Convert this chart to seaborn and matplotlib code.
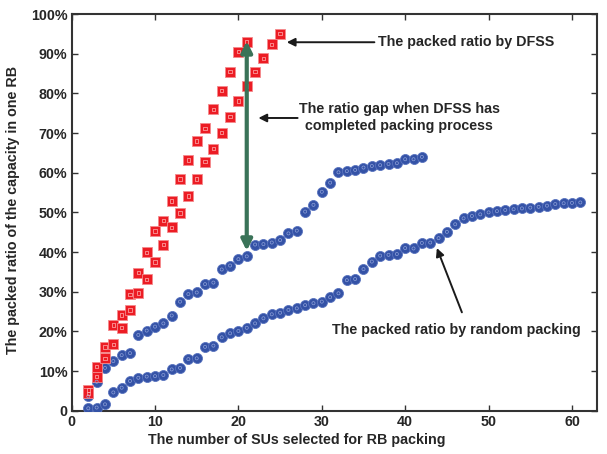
import numpy as np
import pandas as pd
import matplotlib
matplotlib.use("Agg")
import matplotlib.pyplot as plt
import seaborn as sns

# DFSS (two interleaved runs)
dfss_a_x = list(range(2, 22))
dfss_a_y = [5.2, 11.1, 16.1, 21.6, 24.1, 29.3, 34.8, 39.9, 45.3, 47.9,
            52.9, 58.4, 63.2, 68.0, 71.2, 76.0, 80.7, 85.5, 90.5, 93.0]
dfss_b_x = list(range(2, 26))
dfss_b_y = [4.4, 8.6, 13.2, 16.7, 20.9, 25.4, 29.7, 33.1, 37.5, 41.9,
            46.2, 49.8, 54.1, 58.4, 62.8, 66.1, 70.1, 74.1, 78.1, 81.9,
            85.5, 88.8, 92.4, 95.1]

# random packing, upper run (x = 2..42)
rand_a_x = list(range(2, 43))
rand_a_y = [3.6, 7.3, 10.8, 12.5, 14.0, 14.5, 19.1, 20.2, 21.2, 22.0,
            24.0, 27.5, 29.4, 29.8, 31.9, 32.3, 35.6, 36.6, 38.2, 38.9,
            41.9, 42.0, 42.4, 43.0, 44.7, 45.4, 50.2, 51.9, 55.2, 57.5,
            60.1, 60.4, 60.7, 61.3, 61.7, 61.9, 62.2, 62.4, 63.4, 63.4, 64.0]

# random packing, lower run (x = 2..61)
rand_b_x = list(range(2, 62))
rand_b_y = [0.6, 0.8, 1.6, 4.6, 5.8, 7.5, 8.3, 8.6, 8.7, 9.0,
            10.4, 10.8, 13.0, 13.2, 16.1, 16.4, 18.5, 19.5, 20.1, 20.9,
            22.0, 23.3, 24.3, 24.7, 25.4, 25.8, 26.6, 27.1, 27.5, 28.6,
            29.6, 32.9, 33.2, 35.7, 37.6, 39.1, 39.3, 39.5, 41.0, 40.9,
            42.3, 42.4, 43.5, 45.1, 47.0, 48.5, 49.1, 49.5, 50.0, 50.3,
            50.6, 50.8, 51.0, 51.2, 51.4, 51.7, 52.1, 52.3, 52.4, 52.5]

xticks = [0, 10, 20, 30, 40, 50, 60]
yticks = [0, 10, 20, 30, 40, 50, 60, 70, 80, 90, 100]
ytick_labels = ["0"] + [f"{v}%" for v in yticks[1:]]

red = "#ec1c24"
blue = "#3452a6"

sns.set_style("ticks")
plt.rcParams['font.family'] = ['Liberation Sans', 'DejaVu Sans']

fig = plt.figure(figsize=(6.07, 4.54), dpi=100)
ax = fig.add_axes([0.118, 0.0954, 0.8655, 0.8736])

blue_df = pd.DataFrame({"x": rand_a_x + rand_b_x, "y": rand_a_y + rand_b_y})
red_df = pd.DataFrame({"x": dfss_a_x + dfss_b_x, "y": dfss_a_y + dfss_b_y})

sns.scatterplot(data=blue_df, x="x", y="y", ax=ax, marker="o", s=52,
                color=blue, edgecolor="#5a74bf", linewidth=0.6, zorder=3)
sns.scatterplot(data=blue_df, x="x", y="y", ax=ax, marker="o", s=5,
                facecolor="none", edgecolor="#8da0d8", linewidth=0.5, zorder=4)
sns.scatterplot(data=red_df, x="x", y="y", ax=ax, marker="s", s=55,
                color=red, edgecolor="#f48a8d", linewidth=0.6, zorder=3)
sns.scatterplot(data=red_df, x="x", y="y", ax=ax, marker="s", s=6,
                facecolor="none", edgecolor="#ffb3b3", linewidth=0.5, zorder=4)

ax.set_xlim(0, 63)
ax.set_ylim(0, 100)
ax.set_xticks(xticks)
ax.set_yticks(yticks)
ax.set_yticklabels(ytick_labels)
ax.tick_params(direction="in", top=True, right=True, length=4, width=1,
               labelsize=10.3, color="#333333", pad=3)
for lab in ax.get_xticklabels() + ax.get_yticklabels():
    lab.set_fontweight("bold")
for sp in ax.spines.values():
    sp.set_visible(True)
    sp.set_linewidth(1.5)
    sp.set_color("#333333")

ax.set_xlabel("The number of SUs selected for RB packing", fontsize=10.3,
              fontweight="bold")
ax.set_ylabel("The packed ratio of the capacity in one RB", fontsize=10.3,
              fontweight="bold")
ax.xaxis.set_label_coords(0.429, -0.055)
ax.yaxis.set_label_coords(-0.098, 0.506)

# green gap arrow
ax.annotate("", xy=(21, 93.2), xytext=(21, 40.3),
            arrowprops=dict(arrowstyle="<|-|>", color="#3a7358", lw=3,
                            mutation_scale=16, shrinkA=0, shrinkB=0), zorder=5)

arrow = dict(arrowstyle="-|>", color="#1a1a1a", lw=1.4, mutation_scale=12,
             shrinkA=0, shrinkB=0)
ax.annotate("The packed ratio by DFSS", xy=(25.8, 92.9), xytext=(36.7, 92.9),
            fontsize=10.3, fontweight="bold", va="center", ha="left",
            arrowprops=arrow)
ax.annotate("", xy=(22.4, 73.8), xytext=(27.1, 73.8), arrowprops=arrow)
ax.text(39.3, 74.0, "The ratio gap when DFSS has\ncompleted packing process",
        fontsize=10.3, fontweight="bold", ha="center", va="center",
        linespacing=1.25)
ax.annotate("", xy=(43.8, 41.0), xytext=(46.8, 24.8), arrowprops=arrow)
ax.text(46.1, 20.3, "The packed ratio by random packing", fontsize=10.3,
        fontweight="bold", ha="center", va="center")

fig.savefig("out.png", dpi=100)
